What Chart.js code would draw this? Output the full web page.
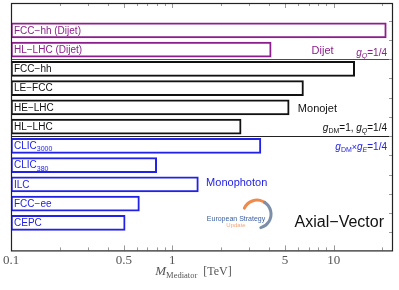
<!DOCTYPE html>
<html>
<head>
<meta charset="utf-8">
<script src="https://cdn.jsdelivr.net/npm/chart.js@4"></script>
<style>
  html, body { margin: 0; padding: 0; background: #fff; }
  #wrap { width: 399px; height: 290px; }
</style>
</head>
<body>
<div id="wrap"><canvas id="chart"></canvas></div>
<script>
// experiments, top to bottom
const experiments = ['FCC−hh (Dijet)', 'HL−LHC (Dijet)', 'FCC−hh', 'LE−FCC', 'HE−LHC', 'HL−LHC', 'CLIC', 'CLIC', 'ILC', 'FCC−ee', 'CEPC'];
const subscripts = ['', '', '', '', '', '', '3000', '380', '', '', ''];
const searchType = ['Dijet', 'Dijet', 'Monojet', 'Monojet', 'Monojet', 'Monojet', 'Monophoton', 'Monophoton', 'Monophoton', 'Monophoton', 'Monophoton'];
// mediator mass reach in TeV
const massReach = [21.2, 4.1, 13.5, 6.5, 5.3, 2.67, 3.54, 0.80, 1.45, 0.625, 0.51];
const xTicks = [0.1, 0.5, 1, 5, 10];
const xRange = [0.1, 23];

const typeColor = { Dijet: '#8b1f8b', Monojet: '#111111', Monophoton: '#2222e6' };
const SANS = '"Liberation Sans", Arial, sans-serif';
const SERIF = '"Liberation Serif", "Times New Roman", serif';

function drawRich(ctx, parts, x, y, align) {
    let w = 0;
    parts.forEach(p => { ctx.font = p.font; w += ctx.measureText(p.t).width; });
    let cx = align === 'right' ? x - w : align === 'center' ? x - w / 2 : x;
    parts.forEach(p => {
        ctx.font = p.font;
        ctx.fillText(p.t, cx, y + (p.dy || 0));
        cx += ctx.measureText(p.t).width;
    });
}

const decor = {
    id: 'decor',
    afterDatasetsDraw(chart) {
        const { ctx, chartArea: a, scales: { x, y } } = chart;
        ctx.save();

        // group separators
        [[1.5, typeColor.Dijet], [5.5, '#222']].forEach(([v, c]) => {
            const py = Math.round(y.getPixelForValue(v)) + 0.5;
            ctx.strokeStyle = c;
            ctx.lineWidth = 1.2;
            ctx.beginPath();
            ctx.moveTo(a.left, py);
            ctx.lineTo(a.right, py);
            ctx.stroke();
        });

        // labels inside the bars
        ctx.textBaseline = 'middle';
        chart.getDatasetMeta(0).data.forEach((bar, i) => {
            ctx.fillStyle = typeColor[searchType[i]];
            const parts = [{ t: experiments[i], font: '10px ' + SANS }];
            if (subscripts[i]) parts.push({ t: subscripts[i], font: '7px ' + SANS, dy: 3 });
            drawRich(ctx, parts, bar.base + 3, bar.y + 0.5, 'left');
        });

        // group annotations
        ctx.textBaseline = 'alphabetic';
        ctx.fillStyle = typeColor.Dijet;
        ctx.font = '11px ' + SANS;
        ctx.fillText('Dijet', x.getPixelForValue(7.3), y.getPixelForValue(1.22));
        drawRich(ctx, [
            { t: 'g', font: 'italic 10px ' + SANS },
            { t: 'Q', font: 'italic 7px ' + SANS, dy: 2 },
            { t: '=1/4', font: '10px ' + SANS }
        ], a.right - 5, y.getPixelForValue(1.33), 'right');

        ctx.fillStyle = typeColor.Monojet;
        ctx.font = '11px ' + SANS;
        ctx.fillText('Monojet', x.getPixelForValue(6.0), y.getPixelForValue(4.22));
        drawRich(ctx, [
            { t: 'g', font: 'italic 10px ' + SANS },
            { t: 'DM', font: '7px ' + SANS, dy: 2 },
            { t: '=1, ', font: '10px ' + SANS },
            { t: 'g', font: 'italic 10px ' + SANS },
            { t: 'Q', font: 'italic 7px ' + SANS, dy: 2 },
            { t: '=1/4', font: '10px ' + SANS }
        ], a.right - 5, y.getPixelForValue(5.21), 'right');

        ctx.fillStyle = typeColor.Monophoton;
        ctx.font = '11px ' + SANS;
        ctx.fillText('Monophoton', x.getPixelForValue(1.62), y.getPixelForValue(8.1));
        drawRich(ctx, [
            { t: 'g', font: 'italic 10px ' + SANS },
            { t: 'DM', font: '7px ' + SANS, dy: 2 },
            { t: '×', font: '9px ' + SANS },
            { t: 'g', font: 'italic 10px ' + SANS },
            { t: 'E', font: 'italic 7px ' + SANS, dy: 2 },
            { t: '=1/4', font: '10px ' + SANS }
        ], a.right - 5, y.getPixelForValue(6.21), 'right');

        ctx.fillStyle = '#111';
        ctx.font = '16px ' + SANS;
        ctx.textAlign = 'right';
        ctx.fillText('Axial−Vector', a.right - 8, y.getPixelForValue(10.22));
        ctx.textAlign = 'left';

        // European Strategy logo (approximation)
        const lx = x.getPixelForValue(3.35), ly = y.getPixelForValue(9.55);
        ctx.lineWidth = 3;
        ctx.lineCap = 'round';
        ctx.strokeStyle = '#f08a4b';
        ctx.beginPath();
        ctx.arc(lx, ly, 14, -2.7, -1.0);
        ctx.stroke();
        ctx.strokeStyle = '#7d8fa8';
        ctx.beginPath();
        ctx.arc(lx, ly, 14, -1.0, 1.3);
        ctx.stroke();
        ctx.textAlign = 'center';
        ctx.fillStyle = '#3b5fa0';
        ctx.font = '7px ' + SANS;
        ctx.fillText('European Strategy', lx - 21, ly + 7);
        ctx.fillStyle = '#f2a77c';
        ctx.font = '6px ' + SANS;
        ctx.fillText('Update', lx - 21, ly + 13);
        ctx.textAlign = 'left';
        ctx.lineCap = 'butt';

        ctx.restore();
    },
    afterDraw(chart) {
        const { ctx, chartArea: a, scales: { x, y } } = chart;
        ctx.save();
        // ticks along top and bottom
        ctx.strokeStyle = '#999';
        ctx.lineWidth = 1;
        for (let d = 0.1; d < 100; d *= 10) {
            for (let k = 1; k < 10; k++) {
                const v = d * k;
                if (v < xRange[0] || v > xRange[1]) continue;
                const px = Math.round(x.getPixelForValue(v)) + 0.5;
                const len = xTicks.includes(+v.toFixed(3)) ? 5 : 3;
                ctx.beginPath();
                ctx.moveTo(px, a.bottom); ctx.lineTo(px, a.bottom - len);
                ctx.moveTo(px, a.top); ctx.lineTo(px, a.top + len);
                ctx.stroke();
            }
        }
        // ticks along the right edge
        for (let i = 0; i <= experiments.length; i++) {
            const py = Math.round(y.getPixelForValue(i - 0.5)) + 0.5;
            ctx.beginPath();
            ctx.moveTo(a.right, py); ctx.lineTo(a.right - 3, py);
            ctx.stroke();
        }
        // frame
        ctx.strokeStyle = '#222';
        ctx.lineWidth = 1.2;
        ctx.strokeRect(a.left + 0.5, a.top + 0.5, a.right - a.left, a.bottom - a.top);

        // axis title
        ctx.fillStyle = '#555';
        ctx.textBaseline = 'alphabetic';
        drawRich(ctx, [
            { t: 'M', font: 'italic 13px ' + SERIF },
            { t: 'Mediator', font: '8.5px ' + SERIF, dy: 3 },
            { t: '  [TeV]', font: '12px ' + SERIF }
        ], (a.left + a.right) / 2 - 8, a.bottom + 25, 'center');
        ctx.restore();
    }
};

new Chart(document.getElementById('chart'), {
    type: 'bar',
    data: {
        datasets: [{
            data: massReach.map((v, i) => ({ x: v, y: i })),
            backgroundColor: '#ffffff',
            borderColor: searchType.map(t => typeColor[t]),
            borderWidth: 2,
            borderSkipped: false,
            barThickness: 15
        }]
    },
    options: {
        indexAxis: 'y',
        responsive: true,
        maintainAspectRatio: false,
        animation: false,
        layout: { padding: { top: 3, right: 7, left: 11, bottom: 20 } },
        plugins: { legend: { display: false }, tooltip: { enabled: false } },
        scales: {
            x: {
                type: 'logarithmic',
                min: xRange[0],
                max: xRange[1],
                grid: { display: false, drawTicks: false },
                border: { display: false },
                afterBuildTicks: s => { s.ticks = xTicks.map(v => ({ value: v })); },
                ticks: {
                    autoSkip: false,
                    maxRotation: 0,
                    padding: 2,
                    color: '#555',
                    font: { family: SERIF, size: 13 },
                    callback: v => String(v)
                }
            },
            y: { type: 'linear', reverse: true, min: -0.62, max: 10.63, display: false }
        }
    },
    plugins: [decor]
});
</script>
</body>
</html>
